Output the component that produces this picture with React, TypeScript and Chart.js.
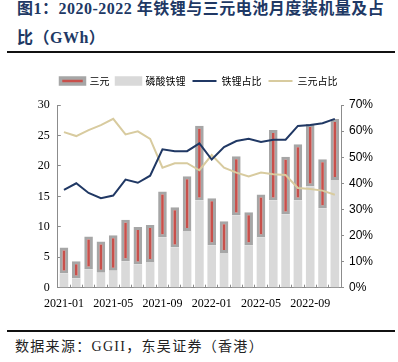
import React, { useEffect, useRef } from "react";
import { Chart, registerables } from "chart.js";

Chart.register(...registerables);

const months = [
  "2021-01", "2021-02", "2021-03", "2021-04", "2021-05", "2021-06", "2021-07", "2021-08",
  "2021-09", "2021-10", "2021-11", "2021-12", "2022-01", "2022-02", "2022-03", "2022-04",
  "2022-05", "2022-06", "2022-07", "2022-08", "2022-09", "2022-10", "2022-11",
];
// GWh
const ternaryGWh = [4.25, 2.85, 5.4, 5.15, 5.8, 6.8, 6.15, 6.1, 7.5, 6.6, 9.0, 12.3, 7.75, 5.2, 9.75, 5.45, 7.0, 11.6, 9.5, 9.25, 10.3, 8.05, 10.0];
const lfpGWh = [2.35, 1.5, 3.0, 2.45, 2.8, 4.35, 3.8, 4.2, 8.3, 6.6, 9.3, 14.3, 6.95, 5.7, 11.85, 6.95, 8.3, 14.3, 12.0, 14.3, 16.6, 13.05, 17.7];
// %
const lfpShare = [37.5, 40, 36.3, 34.3, 35.3, 41.4, 40.2, 42.9, 53, 52.3, 52.3, 55.3, 49.1, 53.9, 56.2, 57.1, 55.8, 56.7, 56.7, 62, 62.3, 63, 64.7];
const ternaryShare = [59.6, 58.1, 60.4, 62.3, 64.7, 58.7, 59.9, 57, 46, 47.7, 47.7, 45, 50.8, 46, 44.1, 42.6, 44.1, 43.5, 43.2, 38.2, 37.8, 37.2, 35.6];
const leftTicks = [0, 5, 10, 15, 20, 25, 30];
const rightTicks = [0, 10, 20, 30, 40, 50, 60, 70];

const NAVY = "#203864";
const TAN = "#d8cb9f";
const RED = "#c8504b";
const DGRAY = "#a6a6a6";
const LGRAY = "#d9d9d9";
const AXIS = "#8c8c8c";

const CJK = '"Noto Sans CJK SC", sans-serif';

export default function App() {
  const ref = useRef<HTMLCanvasElement | null>(null);

  useEffect(() => {
    if (!ref.current) return;
    const legendStyle: any[] = [
      { fillStyle: RED, strokeStyle: DGRAY, lineWidth: 3.5, pointStyle: "rect" },
      { fillStyle: LGRAY, strokeStyle: LGRAY, lineWidth: 3.5, pointStyle: "rect" },
      { fillStyle: NAVY, strokeStyle: NAVY, lineWidth: 2, pointStyle: "line" },
      { fillStyle: TAN, strokeStyle: TAN, lineWidth: 2, pointStyle: "line" },
    ];
    const chart = new Chart(ref.current, {
      type: "bar",
      data: {
        labels: months,
        datasets: [
          {
            type: "bar",
            label: "三元",
            data: ternaryGWh,
            backgroundColor: RED,
            borderColor: DGRAY,
            borderWidth: 3,
            borderSkipped: false,
            xAxisID: "x",
            yAxisID: "y",
            order: 2,
            categoryPercentage: 1,
            barPercentage: 0.7,
          } as any,
          {
            type: "bar",
            label: "磷酸铁锂",
            data: lfpGWh,
            backgroundColor: LGRAY,
            borderWidth: 0,
            xAxisID: "x",
            yAxisID: "y",
            order: 1,
            categoryPercentage: 1,
            barPercentage: 0.7,
          } as any,
          {
            type: "line",
            label: "铁锂占比",
            data: lfpShare,
            borderColor: NAVY,
            backgroundColor: NAVY,
            borderWidth: 2,
            pointRadius: 0,
            tension: 0,
            xAxisID: "x",
            yAxisID: "y1",
            order: 0,
          } as any,
          {
            type: "line",
            label: "三元占比",
            data: ternaryShare,
            borderColor: TAN,
            backgroundColor: TAN,
            borderWidth: 2,
            pointRadius: 0,
            tension: 0,
            xAxisID: "x",
            yAxisID: "y1",
            order: 0,
          } as any,
        ],
      },
      options: {
        animation: false,
        responsive: false,
        maintainAspectRatio: false,
        layout: { padding: 0 },
        plugins: {
          tooltip: { enabled: false },
          legend: {
            display: true,
            position: "top",
            labels: {
              usePointStyle: true,
              pointStyleWidth: 24,
              boxHeight: 6,
              padding: 7,
              color: "#000",
              font: { family: CJK, size: 10 },
              generateLabels: (c: any) =>
                c.data.datasets.map((ds: any, i: number) => ({
                  text: ds.label,
                  ...legendStyle[i],
                  fontColor: "#000",
                  hidden: false,
                  datasetIndex: i,
                })),
            },
          },
        },
        scales: {
          x: {
            stacked: true,
            grid: {
              display: true,
              offset: true,
              drawOnChartArea: false,
              drawTicks: true,
              tickLength: -3,
              color: AXIS,
            },
            border: { display: true, color: AXIS, width: 1 },
            ticks: {
              autoSkip: false,
              maxRotation: 0,
              minRotation: 0,
              padding: 12,
              color: "#000",
              font: { family: '"Liberation Serif", serif', size: 12 },
              callback: (_v: any, i: number) => (i % 4 === 0 ? months[i] : ""),
            },
            afterFit: (s: any) => {
              s.height = 30.3;
            },
          },
          pad: {
            type: "category",
            position: "top",
            display: true,
            grid: { display: false },
            border: { display: false },
            ticks: { display: false },
            afterFit: (s: any) => {
              s.height = 9;
            },
          } as any,
          y: {
            stacked: true,
            position: "left",
            min: leftTicks[0],
            max: leftTicks[leftTicks.length - 1],
            grid: {
              drawOnChartArea: false,
              drawTicks: true,
              tickLength: -3,
              color: AXIS,
            },
            border: { display: true, color: AXIS, width: 1 },
            afterBuildTicks: (s: any) => {
              s.ticks = leftTicks.map((v) => ({ value: v }));
            },
            ticks: {
              padding: 11,
              color: "#000",
              font: { family: '"Liberation Serif", serif', size: 12 },
            },
            afterFit: (s: any) => {
              s.width = 57.8;
            },
          },
          y1: {
            position: "right",
            min: rightTicks[0],
            max: rightTicks[rightTicks.length - 1],
            grid: {
              drawOnChartArea: false,
              drawTicks: true,
              tickLength: 3,
              color: AXIS,
            },
            border: { display: true, color: AXIS, width: 1 },
            afterBuildTicks: (s: any) => {
              s.ticks = rightTicks.map((v) => ({ value: v }));
            },
            ticks: {
              padding: 5,
              color: "#000",
              font: { family: '"Liberation Sans", sans-serif', size: 12 },
              callback: (v: any) => v + "%",
            },
            afterFit: (s: any) => {
              s.width = 57;
            },
          },
        },
      } as any,
    });
    return () => chart.destroy();
  }, []);

  return (
    <div
      style={{
        position: "fixed",
        left: 0,
        top: 0,
        width: 398,
        height: 362,
        background: "#fff",
        overflow: "hidden",
      }}
    >
      <div
        style={{
          position: "absolute",
          left: 17,
          top: -6,
          width: 380,
          fontFamily: '"Liberation Serif", ' + CJK,
          fontWeight: 700,
          fontSize: 16,
          lineHeight: "29px",
          letterSpacing: 0.5,
          color: NAVY,
          whiteSpace: "nowrap",
        }}
      >
        <div>图1：2020-2022 年铁锂与三元电池月度装机量及占</div>
        <div>比（GWh）</div>
      </div>
      <div
        style={{
          position: "absolute",
          left: 7,
          top: 51,
          width: 388,
          height: 2,
          background: "#111",
        }}
      />
      <canvas
        ref={ref}
        width={398}
        height={249}
        style={{ position: "absolute", left: 0, top: 69, width: 398, height: 249 }}
      />
      <div
        style={{
          position: "absolute",
          left: 7,
          top: 330,
          width: 388,
          height: 2,
          background: "#111",
        }}
      />
      <div
        style={{
          position: "absolute",
          left: 15,
          top: 337,
          fontFamily: '"Liberation Serif", ' + CJK,
          fontSize: 14,
          lineHeight: "20px",
          letterSpacing: 1.3,
          color: "#222",
          whiteSpace: "nowrap",
        }}
      >
        数据来源：GGII，东吴证券（香港）
      </div>
    </div>
  );
}
